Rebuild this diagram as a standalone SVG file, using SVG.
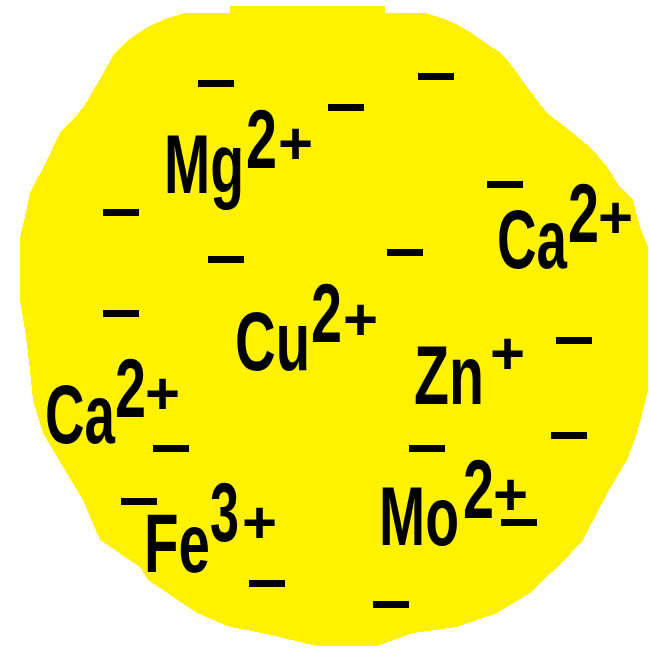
<svg xmlns="http://www.w3.org/2000/svg" width="650" height="648" viewBox="0 0 650 648">
<style>
.ion{font-family:"Liberation Sans",Arial,sans-serif;font-weight:bold;fill:#000}
.big{font-size:84px}
.pl{font-size:60px}
.d{fill:#000}
</style>
<defs><rect id="dash" width="36" height="7"/></defs>
<rect width="650" height="648" fill="#fff"/>
<polygon id="blob" fill="#fff200" shape-rendering="crispEdges" points="230,6 385,6 385,13 425,13 445,19 460,26 470,32 480,39 490,46 500,52 508,61 518,74 527,87 537,100 547,113 573,133 593,150 607,167 620,187 633,200 640,227 648,247 648,390 643,410 637,433 627,460 613,483 600,507 583,540 560,565 543,580 530,593 497,613 457,627 413,633 377,646 317,646 262,633 230,627 197,613 148,580 140,567 100,540 83,500 63,467 43,433 33,400 30,370 25,330 20,300 20,237 25,217 30,193 47,160 60,133 78,114 88,100 95,87 103,74 110,61 116,52 122,46 130,39 140,32 150,26 165,19 185,13 230,13"/>
<g id="dashes" class="d">
<use href="#dash" x="198" y="80"/>
<use href="#dash" x="418" y="73"/>
<use href="#dash" x="328" y="104"/>
<use href="#dash" x="103" y="209"/>
<use href="#dash" x="208" y="256"/>
<use href="#dash" x="103" y="310"/>
<use href="#dash" x="487" y="181"/>
<use href="#dash" x="387" y="249"/>
<use href="#dash" x="556" y="337"/>
<use href="#dash" x="551" y="432"/>
<use href="#dash" x="409" y="445"/>
<use href="#dash" x="153" y="445"/>
<use href="#dash" x="121" y="498"/>
<use href="#dash" x="249" y="580"/>
<use href="#dash" x="373" y="601"/>
<use href="#dash" x="501" y="519"/>
</g>
<g id="mg" class="ion">
<text class="big" x="164" y="193" textLength="80" lengthAdjust="spacingAndGlyphs">Mg</text>
<text class="big" x="246" y="168" textLength="31" lengthAdjust="spacingAndGlyphs">2</text>
<text class="pl" x="278" y="164">+</text>
</g>
<g id="ca-right" class="ion">
<text class="big" x="497" y="268" textLength="70" lengthAdjust="spacingAndGlyphs">Ca</text>
<text class="big" x="568" y="242" textLength="31" lengthAdjust="spacingAndGlyphs">2</text>
<text class="pl" x="598" y="238">+</text>
</g>
<g id="cu" class="ion">
<text class="big" x="235" y="370" textLength="75" lengthAdjust="spacingAndGlyphs">Cu</text>
<text class="big" x="311" y="342" textLength="31" lengthAdjust="spacingAndGlyphs">2</text>
<text class="pl" x="343" y="340">+</text>
</g>
<g id="ca-left" class="ion">
<text class="big" x="45" y="443" textLength="70" lengthAdjust="spacingAndGlyphs">Ca</text>
<text class="big" x="115" y="417" textLength="31" lengthAdjust="spacingAndGlyphs">2</text>
<text class="pl" x="145" y="414">+</text>
</g>
<g id="zn" class="ion">
<text class="big" x="414" y="404" textLength="70" lengthAdjust="spacingAndGlyphs">Zn</text>
<text class="pl" x="490" y="374">+</text>
</g>
<g id="fe" class="ion">
<text class="big" x="144" y="572" textLength="66" lengthAdjust="spacingAndGlyphs">Fe</text>
<text class="big" x="210" y="541" textLength="29" lengthAdjust="spacingAndGlyphs">3</text>
<text class="pl" x="242" y="543">+</text>
</g>
<g id="mo" class="ion">
<text class="big" x="379" y="545" textLength="80" lengthAdjust="spacingAndGlyphs">Mo</text>
<text class="big" x="463" y="518" textLength="31" lengthAdjust="spacingAndGlyphs">2</text>
<text class="pl" x="493" y="515">+</text>
</g>
</svg>
